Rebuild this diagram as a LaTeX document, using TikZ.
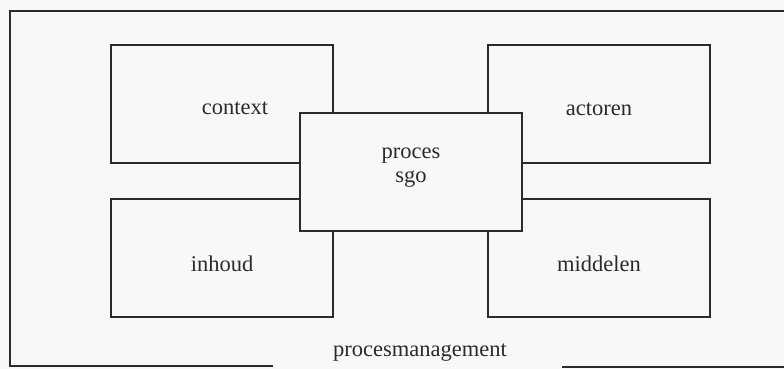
\documentclass[tikz,border=0pt]{standalone}
\usepackage{fontspec}
\setmainfont{Liberation Serif}
\definecolor{paper}{HTML}{F8F8F8}
\definecolor{ink}{HTML}{2B2B2B}
\begin{document}
\begin{tikzpicture}[x=1pt,y=-1pt,
  frameline/.style={draw=ink,line width=1.6pt},
  fieldbox/.style={frameline,fill=paper,minimum width=222pt,minimum height=118pt,
    inner sep=0pt},
  corebox/.style={fieldbox},
  caption/.style={font=\fontsize{22.5}{25}\selectfont,text=ink,inner sep=0pt}]
  \fill[paper] (0,0) rectangle (784,369);
  \useasboundingbox (0,0) rectangle (784,369);

  % outer frame of process management, open at the bottom for its caption
  \node[caption] (pm) at (420,353) {procesmanagement};
  \coordinate (bl) at (10,366);
  \coordinate (tl) at (10,11);
  \coordinate (tr) at (790,11);
  \coordinate (gapL) at (273,366);
  \coordinate (gapR) at (562,367);
  \coordinate (br) at (790,367);
  \draw[frameline] (gapL) -- (bl) -- (tl) -- (tr);
  \draw[frameline] (gapR) -- (br);

  % the four fields
  \node[fieldbox] (context)  at (222,104) {};
  \node[fieldbox] (actoren)  at (599,104) {};
  \node[fieldbox] (inhoud)   at (222,258) {};
  \node[fieldbox] (middelen) at (599,258) {};
  \node[caption] at (235,108) {context};
  \node[caption] at (599,109) {actoren};
  \node[caption] at (222,264) {inhoud};
  \node[caption] at (599,264) {middelen};

  % the process in the middle, on top of the fields
  \node[corebox] (proces) at (411,172) {};
  \node[caption,align=center] at (411,168) {proces\\[-1pt]sgo};
\end{tikzpicture}
\end{document}
